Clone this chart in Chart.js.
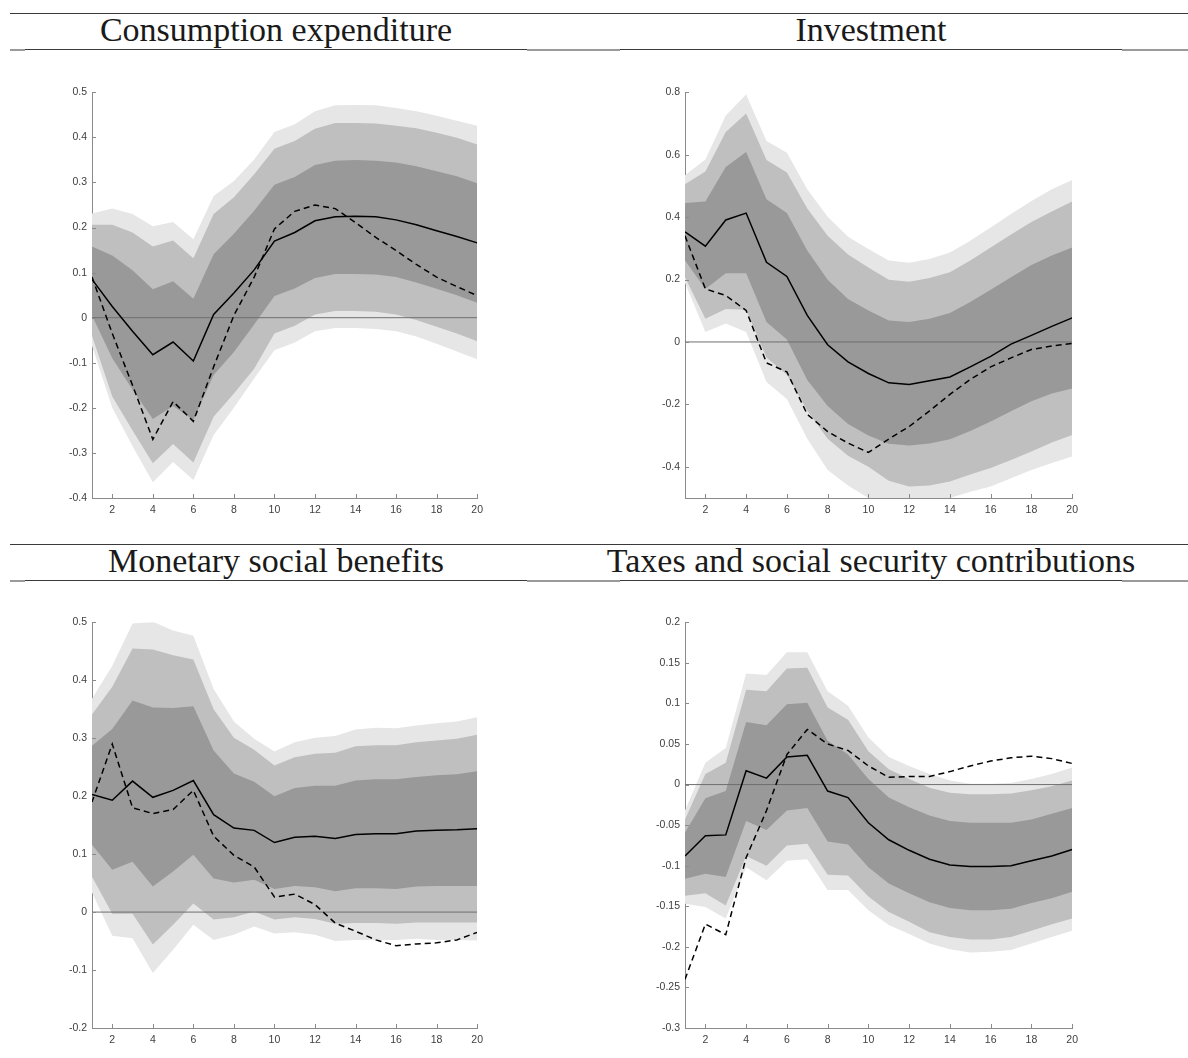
<!DOCTYPE html>
<html>
<head>
<meta charset="utf-8">
<script src="https://cdn.jsdelivr.net/npm/chart.js"></script>
<style>
  html, body { margin: 0; padding: 0; background: #fff; }
  body { position: relative; width: 1188px; height: 1058px; overflow: hidden; }
  .rule { position: absolute; height: 1px; background: #3a3a3a; }
  .seg { position: absolute; height: 2px; background: #9a9a9a; }
  .title {
    position: absolute; width: 640px; text-align: center;
    font-family: "Liberation Serif", "DejaVu Serif", serif;
    font-size: 34px; line-height: 34px; color: #1a1a1a; white-space: nowrap;
  }
  canvas { position: absolute; }
</style>
</head>
<body>

<div class="rule" style="left:10px; width:1178px; top:13px;"></div>
<div class="rule" style="left:10px; width:1178px; top:49px;"></div>
<div class="seg" style="left:10px; width:15px; top:49px;"></div>
<div class="seg" style="left:527px; width:93px; top:49px;"></div>
<div class="seg" style="left:1122px; width:66px; top:49px;"></div>

<div class="rule" style="left:10px; width:1178px; top:544px;"></div>
<div class="rule" style="left:10px; width:1178px; top:580px;"></div>
<div class="seg" style="left:10px; width:15px; top:580px;"></div>
<div class="seg" style="left:527px; width:93px; top:580px;"></div>
<div class="seg" style="left:1122px; width:66px; top:580px;"></div>

<div class="title" style="left:-44px; top:13px;">Consumption expenditure</div>
<div class="title" style="left:551px; top:13px;">Investment</div>
<div class="title" style="left:-44px; top:544px;">Monetary social benefits</div>
<div class="title" style="left:551px; top:544px;">Taxes and social security contributions</div>

<canvas id="c1"></canvas>
<canvas id="c2"></canvas>
<canvas id="c3"></canvas>
<canvas id="c4"></canvas>

<script>
// horizons
const steps = [1, 2, 3, 4, 5, 6, 7, 8, 9, 10, 11, 12, 13, 14, 15, 16, 17, 18, 19, 20];
const xTicks = [2, 4, 6, 8, 10, 12, 14, 16, 18, 20];

// Consumption expenditure
const consYTicks = [-0.4, -0.3, -0.2, -0.1, 0, 0.1, 0.2, 0.3, 0.4, 0.5];
const consSolid   = [0.085, 0.025, -0.03, -0.082, -0.054, -0.096, 0.007, 0.055, 0.106, 0.170, 0.189, 0.215, 0.224, 0.225, 0.224, 0.217, 0.206, 0.193, 0.180, 0.166];
const consDashed  = [0.09, -0.035, -0.15, -0.27, -0.186, -0.23, -0.109, 0.005, 0.09, 0.197, 0.236, 0.250, 0.242, 0.211, 0.178, 0.149, 0.118, 0.09, 0.069, 0.049];
const consOuterHi = [0.231, 0.242, 0.230, 0.203, 0.212, 0.174, 0.270, 0.303, 0.351, 0.412, 0.429, 0.458, 0.471, 0.472, 0.471, 0.465, 0.458, 0.448, 0.437, 0.426];
const consMidHi   = [0.206, 0.206, 0.189, 0.158, 0.171, 0.132, 0.230, 0.267, 0.318, 0.375, 0.392, 0.419, 0.432, 0.432, 0.431, 0.426, 0.420, 0.410, 0.399, 0.384];
const consInnerHi = [0.158, 0.138, 0.105, 0.063, 0.081, 0.042, 0.141, 0.186, 0.237, 0.295, 0.312, 0.339, 0.348, 0.350, 0.348, 0.344, 0.336, 0.325, 0.314, 0.298];
const consInnerLo = [0.005, -0.09, -0.16, -0.225, -0.196, -0.227, -0.127, -0.076, -0.015, 0.048, 0.065, 0.088, 0.097, 0.097, 0.096, 0.09, 0.078, 0.064, 0.05, 0.033];
const consMidLo   = [-0.04, -0.175, -0.25, -0.323, -0.28, -0.321, -0.22, -0.168, -0.113, -0.035, -0.018, 0.007, 0.015, 0.015, 0.013, 0.007, -0.005, -0.02, -0.035, -0.052];
const consOuterLo = [-0.062, -0.2, -0.285, -0.365, -0.32, -0.36, -0.26, -0.2, -0.135, -0.072, -0.055, -0.03, -0.023, -0.023, -0.025, -0.03, -0.042, -0.058, -0.075, -0.092];

// Investment
const invYTicks = [-0.4, -0.2, 0, 0.2, 0.4, 0.6, 0.8];
const invSolid   = [0.353, 0.307, 0.391, 0.413, 0.255, 0.21, 0.085, -0.009, -0.064, -0.101, -0.131, -0.136, -0.124, -0.112, -0.08, -0.046, -0.007, 0.021, 0.05, 0.077];
const invDashed  = [0.34, 0.17, 0.149, 0.101, -0.067, -0.096, -0.232, -0.287, -0.324, -0.354, -0.311, -0.271, -0.221, -0.168, -0.12, -0.08, -0.051, -0.024, -0.013, -0.005];
const invOuterHi = [0.534, 0.585, 0.726, 0.793, 0.644, 0.606, 0.489, 0.401, 0.337, 0.298, 0.261, 0.254, 0.266, 0.287, 0.324, 0.367, 0.41, 0.452, 0.489, 0.519];
const invMidHi   = [0.505, 0.546, 0.673, 0.732, 0.583, 0.543, 0.428, 0.34, 0.28, 0.239, 0.199, 0.193, 0.205, 0.223, 0.261, 0.303, 0.344, 0.384, 0.418, 0.45];
const invInnerHi = [0.445, 0.45, 0.561, 0.609, 0.457, 0.413, 0.293, 0.199, 0.138, 0.101, 0.069, 0.064, 0.074, 0.093, 0.128, 0.167, 0.207, 0.247, 0.277, 0.303];
const invInnerLo = [0.261, 0.17, 0.22, 0.22, 0.064, 0.008, -0.122, -0.205, -0.263, -0.3, -0.326, -0.332, -0.325, -0.312, -0.285, -0.255, -0.222, -0.19, -0.165, -0.149];
const invMidLo   = [0.207, 0.074, 0.106, 0.103, -0.05, -0.105, -0.22, -0.31, -0.365, -0.4, -0.445, -0.463, -0.46, -0.447, -0.425, -0.404, -0.378, -0.351, -0.322, -0.298];
const invOuterLo = [0.19, 0.032, 0.059, 0.032, -0.128, -0.183, -0.31, -0.41, -0.46, -0.5, -0.52, -0.525, -0.52, -0.5, -0.48, -0.463, -0.437, -0.41, -0.388, -0.367];

// Monetary social benefits
const benYTicks = [-0.2, -0.1, 0, 0.1, 0.2, 0.3, 0.4, 0.5];
const benSolid   = [0.203, 0.193, 0.226, 0.198, 0.21, 0.227, 0.168, 0.145, 0.141, 0.12, 0.129, 0.131, 0.127, 0.134, 0.135, 0.135, 0.14, 0.141, 0.142, 0.144];
const benDashed  = [0.19, 0.29, 0.18, 0.17, 0.177, 0.21, 0.131, 0.098, 0.078, 0.026, 0.031, 0.013, -0.019, -0.033, -0.048, -0.058, -0.055, -0.053, -0.048, -0.035];
const benOuterHi = [0.368, 0.425, 0.498, 0.501, 0.486, 0.477, 0.385, 0.329, 0.299, 0.277, 0.293, 0.301, 0.304, 0.315, 0.318, 0.317, 0.322, 0.326, 0.329, 0.336];
const benMidHi   = [0.341, 0.389, 0.455, 0.453, 0.443, 0.436, 0.35, 0.301, 0.28, 0.253, 0.267, 0.273, 0.275, 0.286, 0.288, 0.288, 0.293, 0.296, 0.299, 0.306];
const benInnerHi = [0.287, 0.316, 0.365, 0.353, 0.352, 0.355, 0.279, 0.239, 0.225, 0.2, 0.214, 0.218, 0.218, 0.227, 0.229, 0.229, 0.233, 0.236, 0.238, 0.243];
const benInnerLo = [0.116, 0.073, 0.087, 0.044, 0.07, 0.099, 0.058, 0.051, 0.056, 0.04, 0.045, 0.043, 0.036, 0.041, 0.041, 0.04, 0.044, 0.045, 0.045, 0.045];
const benMidLo   = [0.061, -0.003, -0.003, -0.056, -0.022, 0.015, -0.013, -0.009, 0.001, -0.013, -0.009, -0.012, -0.02, -0.019, -0.019, -0.02, -0.018, -0.018, -0.018, -0.018];
const benOuterLo = [0.034, -0.041, -0.045, -0.105, -0.065, -0.022, -0.048, -0.039, -0.025, -0.037, -0.035, -0.039, -0.05, -0.048, -0.048, -0.048, -0.046, -0.048, -0.048, -0.049];

// Taxes and social security contributions
const taxYTicks = [-0.3, -0.25, -0.2, -0.15, -0.1, -0.05, 0, 0.05, 0.1, 0.15, 0.2];
const taxSolid   = [-0.088, -0.063, -0.062, 0.017, 0.008, 0.034, 0.036, -0.008, -0.016, -0.047, -0.068, -0.081, -0.092, -0.099, -0.101, -0.101, -0.1, -0.094, -0.088, -0.08];
const taxDashed  = [-0.24, -0.172, -0.185, -0.09, -0.032, 0.037, 0.068, 0.05, 0.042, 0.023, 0.009, 0.01, 0.01, 0.016, 0.023, 0.029, 0.033, 0.035, 0.032, 0.026];
const taxOuterHi = [-0.032, 0.027, 0.045, 0.137, 0.135, 0.163, 0.163, 0.115, 0.097, 0.058, 0.034, 0.023, 0.013, 0.005, 0.001, 0.001, 0.002, 0.007, 0.013, 0.021];
const taxMidHi   = [-0.043, 0.013, 0.027, 0.117, 0.115, 0.143, 0.144, 0.095, 0.08, 0.041, 0.019, 0.007, -0.004, -0.01, -0.012, -0.012, -0.011, -0.007, -0.002, 0.005];
const taxInnerHi = [-0.059, -0.017, -0.008, 0.077, 0.073, 0.099, 0.101, 0.054, 0.037, 0.007, -0.016, -0.028, -0.038, -0.045, -0.047, -0.047, -0.047, -0.043, -0.036, -0.029];
const taxInnerLo = [-0.116, -0.11, -0.114, -0.045, -0.056, -0.032, -0.029, -0.07, -0.074, -0.102, -0.122, -0.134, -0.145, -0.152, -0.155, -0.155, -0.153, -0.146, -0.14, -0.132];
const taxMidLo   = [-0.137, -0.134, -0.149, -0.088, -0.1, -0.075, -0.073, -0.111, -0.112, -0.138, -0.157, -0.169, -0.182, -0.188, -0.191, -0.191, -0.188, -0.18, -0.172, -0.165];
const taxOuterLo = [-0.147, -0.151, -0.165, -0.102, -0.118, -0.094, -0.092, -0.13, -0.13, -0.155, -0.173, -0.184, -0.196, -0.203, -0.207, -0.206, -0.204, -0.196, -0.188, -0.18];

const lightGrey = '#e6e6e6';
const midGrey = '#bfbfbf';
const darkGrey = '#999999';
const axisColor = '#8a8a8a';

Chart.defaults.font.family = '"Liberation Sans", Arial, sans-serif';
Chart.defaults.font.size = 10.5;
Chart.defaults.color = '#404040';

const pts = (arr) => arr.map((v, i) => ({ x: steps[i], y: v }));
const fmt = (v) => String(Number(v.toFixed(2)));

// ticks pointing into the plot, like matlab
const inwardTicks = {
    id: 'inwardTicks',
    afterDraw(chart) {
        const { ctx, chartArea: a, scales: { x, y } } = chart;
        ctx.save();
        ctx.strokeStyle = axisColor;
        ctx.lineWidth = 1;
        ctx.beginPath();
        x.ticks.forEach(t => {
            const px = Math.round(x.getPixelForValue(t.value)) + 0.5;
            ctx.moveTo(px, a.bottom);
            ctx.lineTo(px, a.bottom - 4);
        });
        y.ticks.forEach(t => {
            const py = Math.round(y.getPixelForValue(t.value)) + 0.5;
            ctx.moveTo(a.left, py);
            ctx.lineTo(a.left + 4, py);
        });
        ctx.stroke();
        ctx.restore();
    }
};

function band(hi, lo, color, order) {
    return [
        { data: pts(hi), backgroundColor: color, borderWidth: 0, pointRadius: 0, fill: '+1', order: order },
        { data: pts(lo), backgroundColor: color, borderWidth: 0, pointRadius: 0, fill: false, order: order }
    ];
}

function makePanel(id, box, yMin, yMax, yTicks, s) {
    const canvas = document.getElementById(id);
    const padL = 60, padT = 10, padR = 10, padB = 24;
    canvas.width = box.w + padL + padR;
    canvas.height = box.h + padT + padB;
    canvas.style.left = (box.left - padL) + 'px';
    canvas.style.top = (box.top - padT) + 'px';

    new Chart(canvas, {
        type: 'line',
        data: {
            datasets: [
                ...band(s.outerHi, s.outerLo, lightGrey, 4),
                ...band(s.midHi, s.midLo, midGrey, 3),
                ...band(s.innerHi, s.innerLo, darkGrey, 2),
                { data: [{ x: steps[0], y: 0 }, { x: steps[steps.length - 1], y: 0 }], borderColor: '#6e6e6e', borderWidth: 1, pointRadius: 0, fill: false, order: 1 },
                { data: pts(s.solid), borderColor: '#000', borderWidth: 1.5, pointRadius: 0, fill: false, order: 0 },
                { data: pts(s.dashed), borderColor: '#000', borderWidth: 1.5, borderDash: [6, 4], pointRadius: 0, fill: false, order: 0 }
            ]
        },
        options: {
            responsive: false,
            devicePixelRatio: 1,
            animation: false,
            events: [],
            layout: { padding: { left: 0, top: padT, right: padR, bottom: 0 } },
            elements: { line: { tension: 0 } },
            plugins: { legend: { display: false }, tooltip: { enabled: false } },
            scales: {
                x: {
                    type: 'linear', min: steps[0], max: steps[steps.length - 1],
                    grid: { display: false, drawTicks: false },
                    border: { display: true, color: axisColor, width: 1 },
                    ticks: { padding: 6, maxRotation: 0, autoSkip: false, callback: (v) => fmt(v) },
                    afterBuildTicks: (sc) => { sc.ticks = xTicks.map(v => ({ value: v })); },
                    afterFit: (sc) => { sc.height = padB; }
                },
                y: {
                    min: yMin, max: yMax,
                    grid: { display: false, drawTicks: false },
                    border: { display: true, color: axisColor, width: 1 },
                    ticks: { padding: 5, autoSkip: false, callback: (v) => fmt(v) },
                    afterBuildTicks: (sc) => { sc.ticks = yTicks.map(v => ({ value: v })); },
                    afterFit: (sc) => { sc.width = padL; }
                }
            }
        },
        plugins: [inwardTicks]
    });
}

makePanel('c1', { left: 92, top: 91, w: 387, h: 407 }, -0.4, 0.5, consYTicks, {
    solid: consSolid, dashed: consDashed,
    outerHi: consOuterHi, outerLo: consOuterLo, midHi: consMidHi, midLo: consMidLo, innerHi: consInnerHi, innerLo: consInnerLo
});
makePanel('c2', { left: 685, top: 91, w: 389, h: 407 }, -0.5, 0.8, invYTicks, {
    solid: invSolid, dashed: invDashed,
    outerHi: invOuterHi, outerLo: invOuterLo, midHi: invMidHi, midLo: invMidLo, innerHi: invInnerHi, innerLo: invInnerLo
});
makePanel('c3', { left: 92, top: 621, w: 387, h: 407 }, -0.2, 0.5, benYTicks, {
    solid: benSolid, dashed: benDashed,
    outerHi: benOuterHi, outerLo: benOuterLo, midHi: benMidHi, midLo: benMidLo, innerHi: benInnerHi, innerLo: benInnerLo
});
makePanel('c4', { left: 685, top: 621, w: 389, h: 407 }, -0.3, 0.2, taxYTicks, {
    solid: taxSolid, dashed: taxDashed,
    outerHi: taxOuterHi, outerLo: taxOuterLo, midHi: taxMidHi, midLo: taxMidLo, innerHi: taxInnerHi, innerLo: taxInnerLo
});
</script>
</body>
</html>
